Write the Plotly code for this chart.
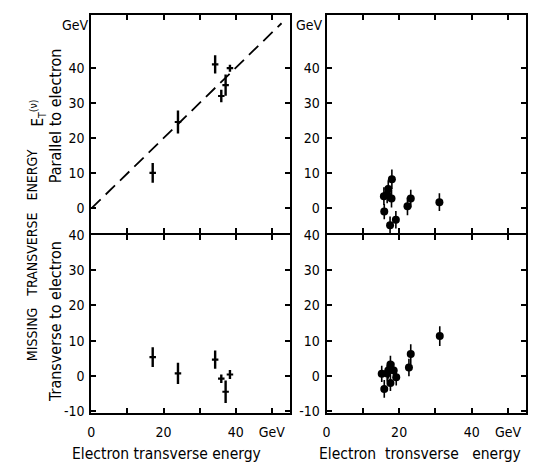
import plotly.graph_objects as go

# ---- data ----
# Left panels: electron events (crosses)
L_x = [17.0, 24.0, 34.3, 36.0, 37.2, 38.4]
L_xerr = [0.9, 0.9, 0.9, 0.9, 0.9, 0.9]
LP_y = [10.1, 24.6, 41.0, 32.0, 35.1, 39.9]     # parallel to electron
LP_err = [2.8, 3.3, 2.6, 1.8, 3.0, 1.0]
LT_y = [5.3, 0.7, 4.6, -0.8, -4.5, 0.4]         # transverse to electron
LT_err = [2.8, 3.0, 2.6, 1.2, 3.2, 1.3]

# Right panels: dots
RP_x = [15.8, 15.9, 16.7, 17.0, 18.0, 17.9, 17.5, 19.1, 22.3, 23.2, 31.1]
RP_y = [3.5, -0.9, 4.0, 5.5, 8.3, 2.8, -4.8, -3.2, 0.6, 2.8, 1.8]
RP_err = [2.5, 2.2, 2.5, 2.5, 2.8, 2.5, 2.5, 2.5, 2.5, 2.5, 2.5]
RT_x = [15.2, 15.9, 16.7, 17.0, 17.6, 17.6, 18.5, 19.2, 22.7, 23.2, 31.2]
RT_y = [0.6, -3.7, 0.7, 1.5, 3.2, -2.0, 1.5, -0.4, 2.4, 6.2, 11.3]
RT_err = [2.3, 2.5, 2.3, 2.3, 2.5, 2.3, 2.3, 2.3, 2.5, 2.8, 2.8]

diag = [0, 52.7]

x_tickvals = [0, 20, 40, 50]
x_ticktext = ["0", "20", "40", "GeV"]
x_minor = [10, 30]
yt_tickvals = [0, 10, 20, 30, 40]
yb_tickvals = [-10, 0, 10, 20, 30, 40]

FONT = "DejaVu Sans Condensed, DejaVu Sans, sans-serif"

fig = go.Figure()

# dashed diagonal
fig.add_trace(go.Scatter(x=diag, y=diag, mode="lines",
                         line=dict(color="black", width=1.8, dash="13px,7px"),
                         xaxis="x", yaxis="y", showlegend=False, hoverinfo="skip"))

def crosses(x, y, ey, xa, ya):
    fig.add_trace(go.Scatter(
        x=x, y=y, mode="markers", marker=dict(size=1, color="black"),
        error_y=dict(type="data", array=ey, color="black", thickness=2.4, width=0),
        error_x=dict(type="data", array=L_xerr, color="black", thickness=2.2, width=0),
        xaxis=xa, yaxis=ya, showlegend=False, cliponaxis=False))

def dots(x, y, ey, xa, ya):
    fig.add_trace(go.Scatter(
        x=x, y=y, mode="markers", marker=dict(size=8, color="black"),
        error_y=dict(type="data", array=ey, color="black", thickness=1.6, width=0),
        xaxis=xa, yaxis=ya, showlegend=False, cliponaxis=False))

crosses(L_x, LP_y, LP_err, "x", "y")
crosses(L_x, LT_y, LT_err, "x3", "y3")
dots(RP_x, RP_y, RP_err, "x2", "y2")
dots(RT_x, RT_y, RT_err, "x4", "y4")

W, H = 539, 468
lx = [88 / W, 288 / W]
rx = [325 / W, 526 / W]
ty = [1 - 232 / H, 1 - 7 / H]
by = [1 - 417 / H, 1 - 234 / H]

common = dict(showline=True, linecolor="black", linewidth=2, mirror="ticks",
              ticks="inside", ticklen=5, tickwidth=1.5, tickcolor="black",
              showgrid=False, zeroline=False, fixedrange=True,
              tickfont=dict(family=FONT, size=14, color="black"))

def xax(dom, anchor, labels):
    return dict(common, domain=dom, anchor=anchor, range=[0, 55],
                tickmode="array", tickvals=x_tickvals, ticktext=x_ticktext,
                showticklabels=labels, ticklabelstandoff=6,
                minor=dict(tickmode="array", tickvals=x_minor, ticks="inside",
                           ticklen=5, tickwidth=1.5, tickcolor="black"))

def yax(dom, anchor, rng, vals):
    return dict(common, domain=dom, anchor=anchor, range=rng, ticklabelstandoff=2,
                tickmode="array", tickvals=vals, ticktext=[str(v) for v in vals])

fig.update_layout(
    width=W, height=H, margin=dict(l=0, r=0, t=0, b=0),
    paper_bgcolor="white", plot_bgcolor="white",
    font=dict(family=FONT, size=14, color="black"),
    xaxis=xax(lx, "y", False), yaxis=yax(ty, "x", [-7.0, 55.1], yt_tickvals),
    xaxis2=xax(rx, "y2", False), yaxis2=yax(ty, "x2", [-7.0, 55.1], yt_tickvals),
    xaxis3=xax(lx, "y3", True), yaxis3=yax(by, "x3", [-10.4, 40], yb_tickvals),
    xaxis4=xax(rx, "y4", True), yaxis4=yax(by, "x4", [-10.4, 40], yb_tickvals),
)

ann = [
    dict(x=72 / W, y=1 - 18 / H, text="GeV", size=14),
    dict(x=308 / W, y=1 - 18 / H, text="GeV", size=14),
    dict(x=52 / W, y=1 - 111 / H, text="Parallel to electron", textangle=-90, size=16),
    dict(x=52 / W, y=1 - 323 / H, text="Transverse to electron", textangle=-90, size=16),
    dict(x=29 / W, y=1 - 255 / H,
         text="MISSING&nbsp;&nbsp;&nbsp;TRANSVERSE&nbsp;&nbsp;&nbsp;ENERGY",
         textangle=-90, size=14),
    dict(x=34 / W, y=1 - 108 / H, text="E<sub>T</sub><sup>(ν)</sup>", textangle=-90, size=15),
    dict(x=164 / W, y=1 - 460 / H, text="Electron transverse energy", size=15.5),
    dict(x=419 / W, y=1 - 460 / H,
         text="Electron&nbsp;&nbsp;tronsverse&nbsp;&nbsp;&nbsp;energy", size=15.5),
]
fig.update_layout(annotations=[dict(xref="paper", yref="paper", showarrow=False,
                                    xanchor="center", yanchor="middle",
                                    x=a["x"], y=a["y"], text=a["text"],
                                    textangle=a.get("textangle", 0),
                                    font=dict(family=FONT, size=a["size"], color="black"))
                               for a in ann])

fig.write_html("out.html")
